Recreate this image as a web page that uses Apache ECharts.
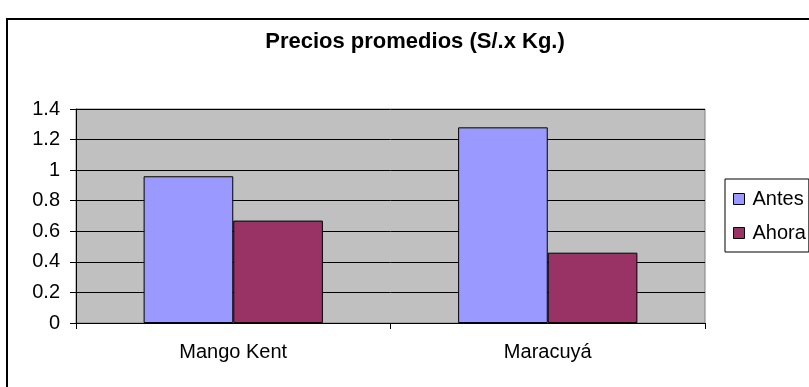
<!DOCTYPE html>
<html>
<head>
<meta charset="utf-8">
<script src="https://cdn.jsdelivr.net/npm/echarts@6/dist/echarts.min.js"></script>
<style>
html,body{margin:0;padding:0;background:#fff;}
#c{width:809px;height:387px;}
</style>
</head>
<body>
<div id="c"></div>
<script>
var categories = ['Mango Kent', 'Maracuyá'];
var antes = [0.96, 1.28];
var ahora = [0.67, 0.46];
var seriesNames = ['Antes', 'Ahora'];
var yTicks = { min: 0, max: 1.4, interval: 0.2 };

var FONT = '"Liberation Sans", Arial, sans-serif';
var chart = echarts.init(document.getElementById('c'), null, { renderer: 'canvas' });
chart.setOption({
  backgroundColor: '#ffffff',
  animation: false,
  graphic: [{
    type: 'rect',
    shape: { x: 7, y: 19, width: 900, height: 500 },
    style: { fill: 'none', stroke: '#000', lineWidth: 2 },
    z: 100
  }],
  title: {
    text: 'Precios promedios (S/.x Kg.)',
    left: 415,
    top: 31,
    textAlign: 'center',
    padding: 0,
    textStyle: { fontFamily: FONT, fontSize: 22, fontWeight: 'bold', color: '#000' }
  },
  legend: {
    orient: 'vertical',
    left: 725,
    top: 179,
    padding: [10, 3, 9, 8],
    itemGap: 14,
    itemWidth: 11,
    itemHeight: 11,
    borderColor: '#000',
    borderWidth: 1,
    icon: 'rect',
    itemStyle: { borderColor: '#000', borderWidth: 1 },
    textStyle: { fontFamily: FONT, fontSize: 20, color: '#000', padding: [0, 0, 0, 3] },
    data: seriesNames
  },
  grid: {
    left: 76, top: 109, right: 104, bottom: 64,
    show: true,
    backgroundColor: '#c0c0c0',
    borderColor: '#808080',
    borderWidth: 1
  },
  xAxis: {
    type: 'category',
    data: categories,
    axisLine: { lineStyle: { color: '#000', width: 1 } },
    axisTick: { show: true, length: 6, lineStyle: { color: '#000' } },
    axisLabel: { fontFamily: FONT, fontSize: 20, color: '#000', margin: 19 },
    splitLine: { show: false }
  },
  yAxis: {
    type: 'value',
    min: yTicks.min, max: yTicks.max, interval: yTicks.interval,
    axisLine: { show: true, lineStyle: { color: '#000', width: 1 } },
    axisTick: { show: true, length: 6, lineStyle: { color: '#000' } },
    axisLabel: { fontFamily: FONT, fontSize: 20, color: '#000', margin: 16,
      formatter: function (v) { return String(Math.round(v * 10) / 10); } },
    splitLine: { show: true, lineStyle: { color: '#000', width: 1 } }
  },
  series: [{
    name: seriesNames[0],
    type: 'bar',
    data: antes,
    barGap: '0%',
    barCategoryGap: '43%',
    itemStyle: { color: '#9999ff', borderColor: '#000', borderWidth: 1 }
  }, {
    name: seriesNames[1],
    type: 'bar',
    data: ahora,
    itemStyle: { color: '#993366', borderColor: '#000', borderWidth: 1 }
  }]
});
</script>
</body>
</html>
